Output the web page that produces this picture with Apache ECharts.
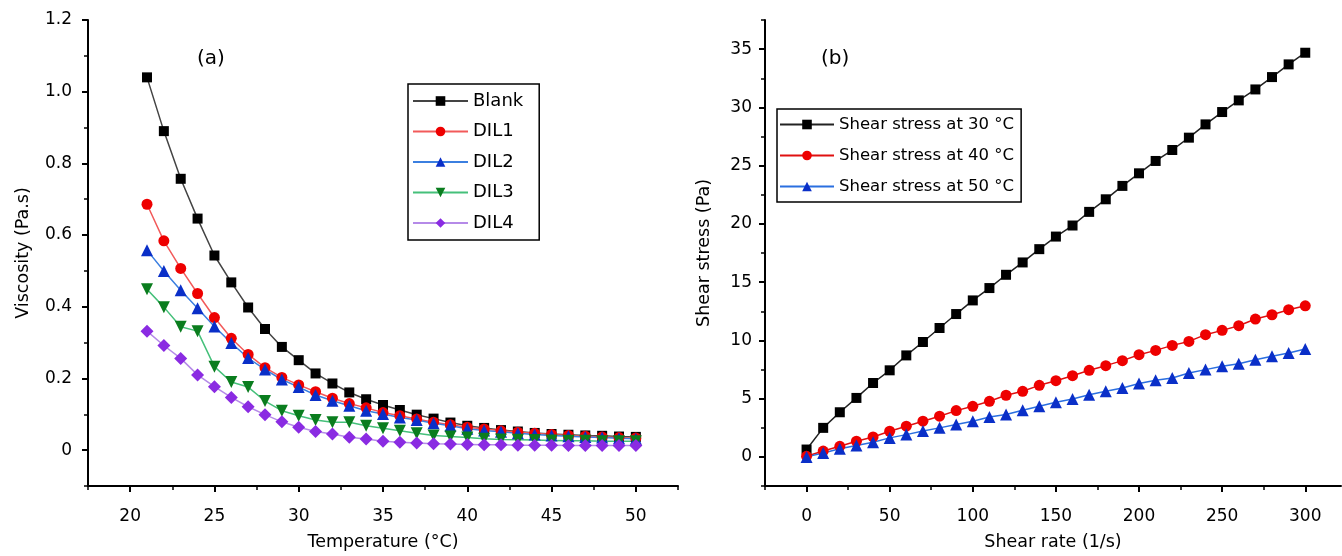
<!DOCTYPE html>
<html>
<head>
<meta charset="UTF-8">
<title>Viscosity and shear stress</title>
<script src="https://cdn.jsdelivr.net/npm/echarts@6/dist/echarts.min.js"></script>
<style>
    html, body { margin: 0; padding: 0; background: #fff; }
    #main { width: 1342px; height: 556px; }
</style>
</head>
<body>
<div id="main"></div>
<script>
// (a) viscosity vs temperature
var temps = [21, 22, 23, 24, 25, 26, 27, 28, 29, 30, 31, 32, 33, 34, 35, 36, 37, 38, 39, 40,
             41, 42, 43, 44, 45, 46, 47, 48, 49, 50];
var blank = [1.04, 0.89, 0.757, 0.646, 0.543, 0.468, 0.398, 0.338, 0.288, 0.251, 0.214, 0.186, 0.161, 0.142, 0.126,
             0.112, 0.099, 0.088, 0.077, 0.068, 0.062, 0.056, 0.052, 0.048, 0.045, 0.043, 0.041, 0.040, 0.038, 0.037];
var dil1 = [0.686, 0.584, 0.507, 0.437, 0.37, 0.312, 0.267, 0.23, 0.203, 0.182, 0.163, 0.145, 0.130, 0.118, 0.105,
            0.096, 0.087, 0.078, 0.071, 0.064, 0.059, 0.054, 0.05, 0.047, 0.044, 0.041, 0.039, 0.037, 0.035, 0.034];
var dil2 = [0.558, 0.5, 0.446, 0.396, 0.345, 0.299, 0.257, 0.225, 0.197, 0.176, 0.154, 0.138, 0.124, 0.110, 0.101,
            0.091, 0.084, 0.075, 0.068, 0.06, 0.055, 0.051, 0.047, 0.044, 0.041, 0.039, 0.037, 0.035, 0.033, 0.032];
var dil3 = [0.449, 0.399, 0.344, 0.332, 0.233, 0.19, 0.176, 0.137, 0.11, 0.096, 0.084, 0.078, 0.078, 0.068, 0.061,
            0.054, 0.047, 0.041, 0.038, 0.035, 0.032, 0.030, 0.029, 0.028, 0.027, 0.026, 0.026, 0.025, 0.025, 0.025];
var dil4 = [0.332, 0.292, 0.256, 0.21, 0.177, 0.147, 0.121, 0.099, 0.079, 0.064, 0.052, 0.045, 0.036, 0.031, 0.025,
            0.022, 0.02, 0.018, 0.017, 0.016, 0.015, 0.015, 0.014, 0.014, 0.014, 0.013, 0.013, 0.013, 0.013, 0.013];

// (b) shear stress vs shear rate
var rates = [0, 10, 20, 30, 40, 50, 60, 70, 80, 90, 100, 110, 120, 130, 140, 150, 160, 170, 180, 190, 200,
             210, 220, 230, 240, 250, 260, 270, 280, 290, 300];
var stress30 = [0.63, 2.49, 3.83, 5.06, 6.34, 7.43, 8.71, 9.86, 11.06, 12.26, 13.43, 14.49, 15.63, 16.69, 17.83, 18.91,
                19.86, 21.03, 22.11, 23.26, 24.34, 25.4, 26.34, 27.4, 28.54, 29.6, 30.6, 31.54, 32.6, 33.69, 34.69];
var stress40 = [0.05, 0.5, 0.91, 1.34, 1.71, 2.2, 2.63, 3.06, 3.49, 3.97, 4.34, 4.77, 5.29, 5.63, 6.14, 6.54,
                6.97, 7.43, 7.83, 8.26, 8.77, 9.14, 9.57, 9.91, 10.49, 10.86, 11.26, 11.83, 12.2, 12.63, 12.97];
var stress50 = [0, 0.34, 0.69, 0.97, 1.26, 1.63, 1.91, 2.22, 2.49, 2.77, 3.06, 3.43, 3.63, 4.0, 4.34, 4.69,
                4.97, 5.34, 5.63, 5.91, 6.29, 6.57, 6.77, 7.2, 7.49, 7.77, 8.0, 8.34, 8.63, 8.91, 9.26];

// tick labels
var tempTicks = [20, 25, 30, 35, 40, 45, 50];
var tempMinor = [17.5, 22.5, 27.5, 32.5, 37.5, 42.5, 47.5, 52.5];
var viscTicks = [0, 0.2, 0.4, 0.6, 0.8, 1.0, 1.2];
var viscMinor = [-0.1, 0.1, 0.3, 0.5, 0.7, 0.9, 1.1];
var rateTicks = [0, 50, 100, 150, 200, 250, 300];
var rateMinor = [-25, 25, 75, 125, 175, 225, 275];
var stressTicks = [0, 5, 10, 15, 20, 25, 30, 35];
var stressMinor = [-2.5, 2.5, 7.5, 12.5, 17.5, 22.5, 27.5, 32.5, 37.5];

var FONT = '"DejaVu Sans", Verdana, sans-serif';

function pairs(xs, ys) {
    var out = [];
    for (var i = 0; i < xs.length; i++) {
        out.push([xs[i], ys[i]]);
    }
    return out;
}

function mainAxis(grid, min, max, ticks, name, gap, fmt) {
    return {
        type: 'value', gridIndex: grid, min: min, max: max,
        name: name, nameLocation: 'middle', nameGap: gap,
        nameTextStyle: { fontSize: 17.5, color: '#000', fontFamily: FONT },
        axisLine: { show: true, onZero: false, lineStyle: { color: '#000', width: 2 } },
        axisTick: { show: true, length: 6, customValues: ticks, lineStyle: { color: '#000', width: 2 } },
        axisLabel: { customValues: ticks, fontSize: 17, color: '#000', fontFamily: FONT, margin: 16, formatter: fmt },
        splitLine: { show: false }
    };
}

function minorAxis(grid, min, max, ticks, pos) {
    return {
        type: 'value', gridIndex: grid, min: min, max: max, position: pos,
        axisLine: { show: false, onZero: false },
        axisTick: { show: true, length: 4, customValues: ticks, lineStyle: { color: '#000', width: 1.5 } },
        axisLabel: { show: false },
        splitLine: { show: false }
    };
}

function line(name, xIdx, data, symbol, size, color, lineColor, extra) {
    var s = {
        name: name, type: 'line', xAxisIndex: xIdx, yAxisIndex: xIdx,
        data: data, symbol: symbol, symbolSize: size, showAllSymbol: true,
        itemStyle: { color: color },
        lineStyle: { color: lineColor, width: 1.5 },
        emphasis: { disabled: true },
        animation: false
    };
    if (extra) {
        for (var k in extra) s[k] = extra[k];
    }
    return s;
}

var xa = mainAxis(0, 17.5, 52.5, tempTicks, 'Temperature (°C)', 47);
xa.position = 'bottom';
xa.axisLabel.margin = 22;
var ya = mainAxis(0, -0.1, 1.2, viscTicks, 'Viscosity (Pa.s)', 56, function (v) {
    return v === 0 ? '0' : v.toFixed(1);
});
ya.position = 'left';
var xb = mainAxis(1, -25, 321.5, rateTicks, 'Shear rate (1/s)', 47);
xb.position = 'bottom';
xb.axisLabel.margin = 22;
var yb = mainAxis(1, -2.5, 37.5, stressTicks, 'Shear stress (Pa)', 52);
yb.position = 'left';
yb.axisLabel.margin = 13;

var option = {
    backgroundColor: '#fff',
    textStyle: { fontFamily: FONT },
    title: [
        { text: '(a)', left: 192, top: 44, textStyle: { fontSize: 20, fontWeight: 'normal', color: '#000', fontFamily: FONT } },
        { text: '(b)', left: 816, top: 44, textStyle: { fontSize: 20, fontWeight: 'normal', color: '#000', fontFamily: FONT } }
    ],
    grid: [
        { left: 88, top: 20, width: 590, height: 469 },
        { left: 765, top: 20, width: 576, height: 468 }
    ],
    xAxis: [xa, xb, minorAxis(0, 17.5, 52.5, tempMinor, 'bottom'), minorAxis(1, -25, 321.5, rateMinor, 'bottom')],
    yAxis: [ya, yb, minorAxis(0, -0.1, 1.2, viscMinor, 'left'), minorAxis(1, -2.5, 37.5, stressMinor, 'left')],
    legend: [
        {
            data: ['Blank', 'DIL1', 'DIL2', 'DIL3', 'DIL4'],
            orient: 'vertical', left: 408, top: 84,
            itemWidth: 55, itemHeight: 12, itemGap: 12.5,
            padding: [8, 16, 8, 4],
            borderColor: '#000', borderWidth: 1.5,
            textStyle: { fontSize: 18, color: '#000', fontFamily: FONT }
        },
        {
            data: ['Shear stress at 30 °C', 'Shear stress at 40 °C', 'Shear stress at 50 °C'],
            orient: 'vertical', left: 777, top: 109,
            itemWidth: 54, itemHeight: 12, itemGap: 14,
            padding: [7, 7, 7, 2],
            borderColor: '#000', borderWidth: 1.5,
            textStyle: { fontSize: 16.5, color: '#000', fontFamily: FONT }
        }
    ],
    series: [
        line('Blank', 0, pairs(temps, blank), 'rect', 10, '#000', '#444'),
        line('DIL1', 0, pairs(temps, dil1), 'circle', 11, '#ee0000', '#f25a5a'),
        line('DIL2', 0, pairs(temps, dil2), 'triangle', 12, '#0a2fc8', '#3b7fe0'),
        line('DIL3', 0, pairs(temps, dil3), 'triangle', 12, '#0a7d1e', '#45c07a', { symbolRotate: 180 }),
        line('DIL4', 0, pairs(temps, dil4), 'diamond', 13, '#8a2be2', '#b58ae8'),
        line('Shear stress at 30 °C', 1, pairs(rates, stress30), 'rect', 10, '#000', '#222'),
        line('Shear stress at 40 °C', 1, pairs(rates, stress40), 'circle', 11, '#ee0000', '#e01010'),
        line('Shear stress at 50 °C', 1, pairs(rates, stress50), 'triangle', 12, '#0a2fc8', '#2a6fe0')
    ]
};

var myChart = echarts.init(document.getElementById('main'));
myChart.setOption(option);
</script>
</body>
</html>
